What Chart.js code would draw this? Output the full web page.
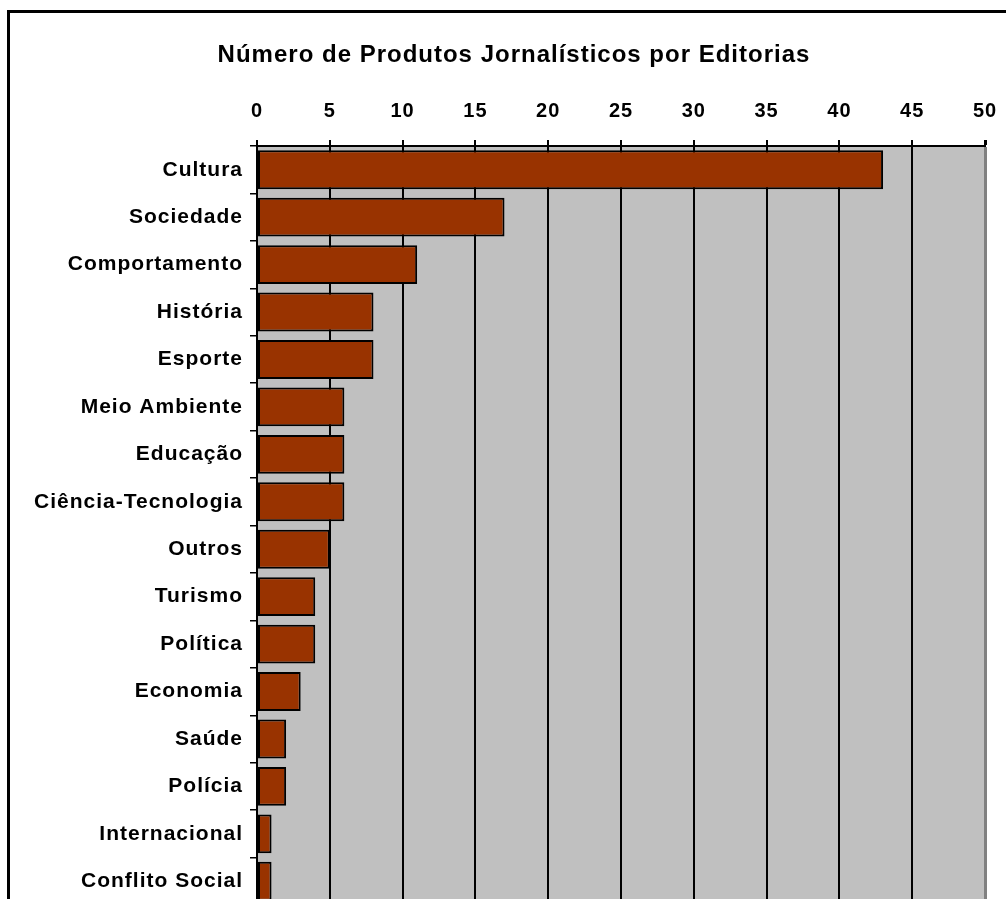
<!DOCTYPE html>
<html>
<head>
<meta charset="utf-8">
<script src="https://cdn.jsdelivr.net/npm/chart.js@4/dist/chart.umd.min.js"></script>
<style>
  html, body { margin: 0; padding: 0; background: #fff; overflow: hidden; width: 1006px; height: 899px; }
  .frame { position: absolute; left: 7px; top: 10px; width: 1100px; height: 1000px; border: 3px solid #000; box-sizing: border-box; }
  #chart { position: absolute; left: 0; top: 0; }
</style>
</head>
<body>
<div class="frame"></div>
<canvas id="chart" width="1028" height="920"></canvas>
<script>
// Editorias and how many products each one has
const categories = [
  "Cultura", "Sociedade", "Comportamento", "História", "Esporte",
  "Meio Ambiente", "Educação", "Ciência-Tecnologia", "Outros", "Turismo",
  "Política", "Economia", "Saúde", "Polícia", "Internacional", "Conflito Social"
];
const productCounts = [43, 17, 11, 8, 8, 6, 6, 6, 5, 4, 4, 3, 2, 2, 1, 1];

// value axis
const axisMin = 0;
const axisMax = 50;
const axisStep = 5;

const chartTitle = "Número de Produtos Jornalísticos por Editorias";

const fontFamily = "'Liberation Sans', Arial, sans-serif";
const barColor = "#993300";
const plotColor = "#C0C0C0";

// slightly spaced-out lettering
const letterSpacing = {
  id: "letterSpacing",
  beforeUpdate(chart) { chart.ctx.letterSpacing = "1px"; },
  beforeDraw(chart) { chart.ctx.letterSpacing = "1px"; }
};

// gray plot area behind the bars
const plotBackground = {
  id: "plotBackground",
  beforeDraw(chart) {
    const { ctx, chartArea } = chart;
    ctx.save();
    ctx.fillStyle = plotColor;
    ctx.fillRect(chartArea.left, chartArea.top, chartArea.right - chartArea.left, chartArea.bottom - chartArea.top);
    ctx.restore();
  }
};

const ctx = document.getElementById("chart").getContext("2d");

new Chart(ctx, {
  type: "bar",
  data: {
    labels: categories,
    datasets: [
      {
        data: productCounts,
        backgroundColor: barColor,
        borderColor: "#000",
        borderWidth: 2,
        borderSkipped: false,
        barPercentage: 0.82,
        categoryPercentage: 1
      }
    ]
  },
  options: {
    indexAxis: "y",
    responsive: false,
    animation: false,
    layout: {
      padding: { left: 0, right: 0, top: 0, bottom: 15 }
    },
    plugins: {
      legend: { display: false },
      tooltip: { enabled: false },
      title: {
        display: true,
        text: chartTitle,
        color: "#000",
        font: { family: fontFamily, size: 24, weight: "bold" },
        padding: { top: 41, bottom: 29.2 }
      }
    },
    scales: {
      x: {
        position: "top",
        min: axisMin,
        max: axisMax,
        ticks: {
          stepSize: axisStep,
          color: "#000",
          padding: 17,
          font: { family: fontFamily, size: 20, weight: "bold" }
        },
        grid: {
          color: (c) => (c.tick && c.tick.value === axisMax ? "#808080" : "#000"),
          lineWidth: (c) => (c.tick && c.tick.value === axisMax ? 3 : 2),
          tickColor: "#000",
          tickLength: 6
        },
        border: { color: "#000", width: 2 },
        afterFit(scale) {
          scale.height = 47;
          scale.paddingLeft = 0;
          scale.paddingRight = 43;
          scale.paddingTop = 0;
          scale.paddingBottom = 0;
        }
      },
      y: {
        ticks: {
          color: "#000",
          padding: 7,
          autoSkip: false,
          font: { family: fontFamily, size: 21, weight: "bold" }
        },
        grid: {
          drawOnChartArea: false,
          tickColor: "#000",
          tickLength: 7,
          lineWidth: 1.5
        },
        border: { color: "#000", width: 2 },
        afterFit(scale) {
          scale.width = 257;
          scale.paddingTop = 0;
          scale.paddingBottom = 0;
        }
      }
    }
  },
  plugins: [letterSpacing, plotBackground]
});
</script>
</body>
</html>
